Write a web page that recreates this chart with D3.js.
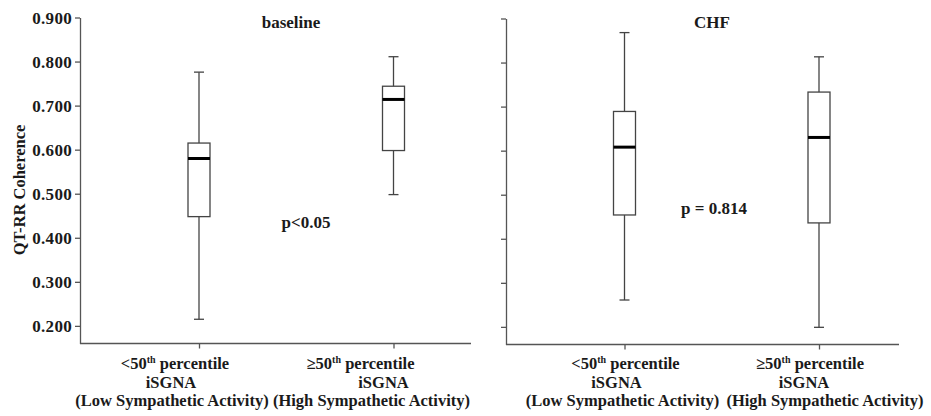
<!DOCTYPE html>
<html>
<head>
<meta charset="utf-8">
<script src="https://cdn.jsdelivr.net/npm/d3@7"></script>
<style>
  body { margin: 0; background: #fff; }
  svg text { font-family: "Liberation Serif", "Times New Roman", serif; font-weight: bold; fill: #1a1a1a; }
</style>
</head>
<body>
<script>
// data
var panels = ["baseline", "CHF"];
var pLabels = ["p<0.05", "p = 0.814"];
var categories = ["low", "high"];
var catLine1 = ["<50", "\u226550"];
var catLine2 = ["iSGNA", "iSGNA"];
var catLine3 = ["(Low Sympathetic Activity)", "(High Sympathetic Activity)"];
var yTicks = [0.2, 0.3, 0.4, 0.5, 0.6, 0.7, 0.8, 0.9];

// box stats per panel: [low, high]
var whiskerHi = [[0.776, 0.811], [0.868, 0.813]];
var q3 = [[0.615, 0.744], [0.689, 0.733]];
var median = [[0.580, 0.714], [0.608, 0.630]];
var q1 = [[0.448, 0.598], [0.454, 0.436]];
var whiskerLo = [[0.215, 0.498], [0.261, 0.199]];

var width = 931, height = 416;
var svg = d3.select("body").append("svg")
  .attr("width", width)
  .attr("height", height);

// layout of the two panels
var layout = [
  {left: 80, right: 471, top: 17.5, bottom: 343.5, x0: 199, x1: 393.5, pX: 306, pY: 228,
   titleX: 291, labelDx: [[-24, -28, -27], [-33, -10, -22]]},
  {left: 506, right: 899, top: 18.5, bottom: 344.5, x0: 624.5, x1: 819, pX: 714, pY: 214,
   titleX: 712, labelDx: [[1, -8, -2], [-9, -15, 6]]}
];
var axisColor = "#555";

panels.forEach(function(name, pi) {
  var L = layout[pi];
  var g = svg.append("g");

  var y = d3.scaleLinear().domain([0.16, 0.9]).range([L.bottom, L.top]);
  var x = d3.scalePoint().domain(categories).range([L.x0, L.x1]);

  // y axis
  var yAxis = g.append("g")
    .attr("transform", "translate(" + L.left + ",0)")
    .call(d3.axisLeft(y).tickValues(yTicks).tickSize(5).tickSizeOuter(0)
      .tickFormat(pi == 0 ? d3.format(".3f") : function() { return ""; }));
  yAxis.selectAll("path, line").attr("stroke", axisColor).attr("stroke-width", 1.3);
  yAxis.selectAll("text")
    .attr("x", -8)
    .attr("dy", "0.35em")
    .style("font-size", "17px")
    .style("letter-spacing", "0.3px")
    .style("font-family", "'Liberation Serif', serif");

  // x axis
  var xAxis = g.append("g")
    .attr("transform", "translate(0," + L.bottom + ")")
    .call(d3.axisBottom(x).tickSize(5).tickSizeOuter(0).tickFormat(""));
  xAxis.select(".domain").remove();
  xAxis.selectAll("line").attr("stroke", axisColor).attr("stroke-width", 1.3);
  g.append("line")
    .attr("x1", L.left).attr("x2", L.right)
    .attr("y1", L.bottom).attr("y2", L.bottom)
    .attr("stroke", axisColor).attr("stroke-width", 1.3);

  // boxes
  var boxW = 22, capW = 10;
  categories.forEach(function(c, ci) {
    var cx = x(c);
    var b = g.append("g");
    b.append("line")
      .attr("x1", cx).attr("x2", cx)
      .attr("y1", y(whiskerHi[pi][ci])).attr("y2", y(whiskerLo[pi][ci]))
      .attr("stroke", "#444").attr("stroke-width", 1.3);
    [whiskerHi[pi][ci], whiskerLo[pi][ci]].forEach(function(v) {
      b.append("line")
        .attr("x1", cx - capW / 2).attr("x2", cx + capW / 2)
        .attr("y1", y(v)).attr("y2", y(v))
        .attr("stroke", "#444").attr("stroke-width", 1.3);
    });
    b.append("rect")
      .attr("x", cx - boxW / 2)
      .attr("y", y(q3[pi][ci]))
      .attr("width", boxW)
      .attr("height", y(q1[pi][ci]) - y(q3[pi][ci]))
      .attr("fill", "#fff")
      .attr("stroke", "#444").attr("stroke-width", 1.3);
    b.append("line")
      .attr("x1", cx - boxW / 2).attr("x2", cx + boxW / 2)
      .attr("y1", y(median[pi][ci])).attr("y2", y(median[pi][ci]))
      .attr("stroke", "#000").attr("stroke-width", 3);

    // category labels
    var t1 = g.append("text")
      .attr("x", cx + L.labelDx[ci][0]).attr("y", 369)
      .attr("text-anchor", "middle")
      .style("font-size", "16.5px");
    t1.append("tspan").text(catLine1[ci]);
    t1.append("tspan").text("th").attr("dy", -6).style("font-size", "10px");
    t1.append("tspan").text(" percentile").attr("dy", 6);
    g.append("text")
      .attr("x", cx + L.labelDx[ci][1]).attr("y", 388)
      .attr("text-anchor", "middle")
      .style("font-size", "16.5px")
      .text(catLine2[ci]);
    g.append("text")
      .attr("x", cx + L.labelDx[ci][2]).attr("y", 406)
      .attr("text-anchor", "middle")
      .style("font-size", "16.5px")
      .text(catLine3[ci]);
  });

  // panel title and p value
  g.append("text")
    .attr("x", L.titleX).attr("y", 28)
    .attr("text-anchor", "middle")
    .style("font-size", "17px")
    .text(name);
  g.append("text")
    .attr("x", L.pX).attr("y", L.pY)
    .attr("text-anchor", "middle")
    .style("font-size", "17px")
    .text(pLabels[pi]);
});

// y axis title
svg.append("text")
  .attr("transform", "translate(25,190) rotate(-90)")
  .attr("text-anchor", "middle")
  .style("font-size", "16.5px")
  .text("QT-RR Coherence");
</script>
</body>
</html>
